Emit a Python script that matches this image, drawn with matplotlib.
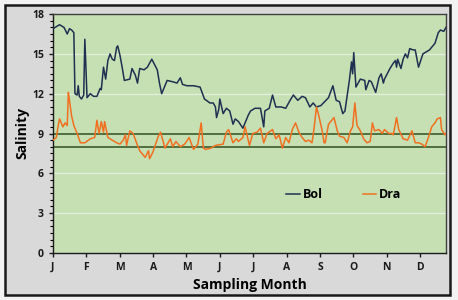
import numpy as np
import matplotlib
matplotlib.use("Agg")
import matplotlib.pyplot as plt
from matplotlib.ticker import MultipleLocator
from matplotlib.patches import Rectangle

# 数据：横轴为采样日 (0 = 1 月初)，纵轴为盐度
bol_day = [0, 6, 10, 13, 15, 17, 19, 20, 22, 23, 24, 26, 28, 29, 30, 31, 34, 37, 40, 43,
           44, 46, 48, 50, 52, 54, 56, 58, 59, 61, 63, 65, 70, 72, 75, 77, 79, 83, 86, 90,
           95, 97, 99, 104, 109, 113, 116, 118, 122, 128, 134, 138, 143, 146, 148, 149, 151,
           152, 155, 158, 161, 164, 166, 169, 173, 176, 178, 180, 184, 189, 192, 193, 197,
           200, 203, 208, 212, 216, 219, 223, 227, 230, 234, 237, 240, 244, 251, 255, 258,
           261, 264, 266, 270, 272, 273, 274, 276, 280, 284, 285, 288, 290, 294, 297, 299,
           301, 302, 307, 310, 312, 313, 314, 317, 319, 321, 323, 325, 328, 330, 333, 337,
           343, 348, 351, 353, 356, 358]
bol_sal = [16.9, 17.2, 17.0, 16.5, 16.9, 16.8, 16.6, 12.0, 11.9, 12.6, 11.8, 11.6, 11.9, 16.1,
           14.0, 11.7, 12.0, 11.8, 11.8, 12.4, 12.3, 14.0, 13.1, 14.5, 15.0, 14.6, 14.5, 15.5,
           15.6, 14.9, 14.0, 13.0, 13.1, 13.9, 13.4, 12.8, 13.9, 13.8, 14.0, 14.6, 13.8, 12.8,
           12.0, 13.0, 12.9, 12.8, 13.2, 12.7, 12.6, 12.6, 12.5, 11.6, 11.3, 11.3, 11.0, 10.2,
           10.8, 11.6, 10.5, 10.9, 10.7, 9.7, 10.1, 9.9, 9.4, 10.0, 10.4, 10.7, 10.9, 10.9, 9.5,
           10.7, 10.9, 11.9, 11.0, 11.0, 10.9, 11.5, 11.9, 11.5, 11.8, 11.7, 11.0, 11.3, 11.0,
           11.1, 11.7, 12.6, 11.5, 11.4, 10.5, 10.7, 13.0, 14.4, 13.5, 15.1, 12.5, 13.1, 13.0,
           12.3, 13.0, 12.9, 12.1, 13.2, 13.5, 12.8, 13.1, 13.9, 14.3, 14.5, 14.0, 14.6, 13.9,
           14.6, 15.0, 14.7, 15.4, 15.3, 15.3, 14.0, 15.0, 15.3, 15.8, 16.6, 16.8, 16.7, 17.0]

dra_day = [0, 3, 5, 6, 9, 11, 13, 14, 15, 17, 19, 22, 25, 29, 34, 38, 40, 42, 44, 46, 47, 50,
           54, 58, 61, 64, 66, 67, 70, 73, 77, 79, 84, 87, 88, 91, 96, 98, 102, 107, 109, 112,
           116, 120, 124, 128, 132, 135, 137, 139, 144, 148, 155, 158, 160, 164, 167, 169, 173,
           175, 179, 182, 186, 189, 192, 195, 200, 203, 206, 209, 212, 215, 218, 221, 224, 227,
           230, 233, 236, 238, 240, 242, 245, 247, 248, 251, 256, 259, 261, 265, 268, 271, 273,
           275, 277, 280, 283, 286, 289, 291, 293, 297, 300, 302, 306, 309, 310, 313, 315, 319,
           323, 327, 330, 333, 336, 339, 342, 345, 348, 350, 353, 354, 357, 358]
dra_sal = [8.5, 8.7, 9.7, 10.1, 9.5, 9.8, 9.6, 12.1, 11.5, 10.3, 9.6, 9.0, 8.3, 8.3, 8.6, 8.7,
           10.0, 9.0, 9.9, 9.1, 9.9, 8.7, 8.5, 8.3, 8.2, 8.5, 8.9, 8.1, 9.2, 9.0, 8.1, 7.7, 7.2,
           7.7, 7.1, 7.6, 8.8, 9.1, 7.9, 8.6, 8.0, 8.4, 8.0, 8.2, 8.7, 7.8, 8.2, 9.8, 7.9, 7.8,
           7.9, 8.1, 8.2, 9.1, 9.3, 8.3, 8.6, 8.4, 8.7, 9.5, 8.1, 9.0, 9.1, 9.4, 8.3, 9.0, 9.3,
           8.6, 8.9, 7.9, 8.7, 8.3, 9.3, 9.8, 9.1, 8.7, 8.4, 8.5, 8.3, 9.5, 11.0, 10.4, 9.3, 8.3,
           8.3, 9.7, 10.2, 9.2, 8.8, 8.7, 8.3, 9.2, 9.5, 11.3, 9.6, 9.2, 8.6, 8.3, 8.4, 9.8, 9.2,
           9.3, 9.0, 9.3, 9.0, 9.0, 8.9, 10.2, 9.3, 8.6, 8.5, 9.2, 8.3, 8.3, 8.2, 8.0, 8.7, 9.5,
           9.8, 10.1, 10.2, 9.3, 8.9, 9.0]

months = ["J", "F", "M", "A", "M", "J", "J", "A", "S", "O", "N", "D"]
month_len = 30.4
ref_lines = [8, 9]

plt.rcParams["font.family"] = ["Open Sans", "DejaVu Sans"]
plt.rcParams["font.weight"] = "bold"

fig = plt.figure(figsize=(4.58, 3.0), dpi=100)
fig.patch.set_facecolor("#f2f2f2")
frame = Rectangle((0.011, 0.017), 0.972, 0.967, transform=fig.transFigure,
                  facecolor="#d9d9d9", edgecolor="#1a1a1a", linewidth=1.8, zorder=-10)
fig.add_artist(frame)

ax = fig.add_axes([0.1157, 0.157, 0.858, 0.796])
ax.set_facecolor("#c6e0b4")

for v in [3, 6, 12, 15]:
    ax.axhline(v, color="#e4efdc", linewidth=0.9, zorder=1)
for v in ref_lines:
    ax.axhline(v, color="#3b5e2b", linewidth=1.2, zorder=2)

ax.plot(bol_day, bol_sal, color="#1f3050", linewidth=1.1, label="Bol", zorder=3)
ax.plot(dra_day, dra_sal, color="#f07020", linewidth=1.1, label="Dra", zorder=3)

ax.set_xlim(0, 358)
ax.set_ylim(0, 18)
ax.set_xticks(np.arange(len(months)) * month_len)
ax.set_xticklabels(months)
ax.yaxis.set_major_locator(MultipleLocator(3))
ax.yaxis.set_minor_locator(MultipleLocator(0.5))
ax.tick_params(axis="both", labelsize=7.5, colors="#1a1a1a", width=1, length=3)
ax.tick_params(axis="y", which="minor", length=2, width=0.8)
for lbl in ax.get_xticklabels() + ax.get_yticklabels():
    lbl.set_fontweight("bold")

for s in ax.spines.values():
    s.set_color("#404040")
    s.set_linewidth(1.0)
ax.spines["left"].set_color("#1a1a1a")
ax.spines["bottom"].set_color("#1a1a1a")

ax.set_ylabel("Salinity", fontsize=10, fontweight="bold", labelpad=2)
ax.set_xlabel("Sampling Month", fontsize=10, fontweight="bold", labelpad=4)

leg = ax.legend(loc="center", bbox_to_anchor=(0.74, 0.245), ncol=2, frameon=False,
                handlelength=1.1, handletextpad=0.2, columnspacing=3.2,
                prop={"weight": "bold", "size": 9})

fig.savefig("out.png", dpi=100, facecolor=fig.get_facecolor())
